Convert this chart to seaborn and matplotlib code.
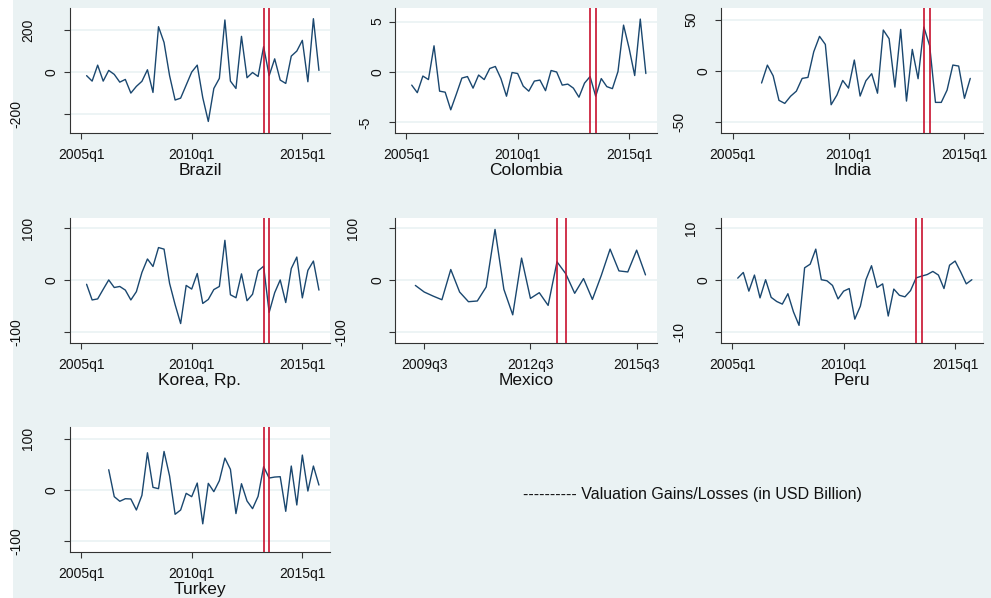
import pandas as pd
import matplotlib
matplotlib.use("Agg")
import matplotlib.pyplot as plt
import seaborn as sns

# valuation gains/losses per quarter (USD billion)
brazil_start = "2005Q2"
brazil = [-17, -43, 33, -43, 8, -11, -48, -35, -100, -68, -44, 11, -97, 216, 141,
          -17, -133, -124, -62, 0, 33, -122, -235, -78, -30, 248, -43, -78, 170,
          -27, -2, -21, 121, -17, 63, -38, -54, 76, 100, 151, -46, 254, 8]

colombia_start = "2005Q2"
colombia = [-1.3, -2.05, -0.4, -0.75, 2.6, -1.9, -2.0, -3.75, -2.2, -0.6, -0.45,
            -1.6, -0.3, -0.75, 0.35, 0.55, -0.65, -2.4, -0.05, -0.15, -1.4, -1.9,
            -0.9, -0.8, -1.85, 0.15, 0.0, -1.3, -1.2, -1.6, -2.5, -1.1, -0.45,
            -2.4, -0.65, -1.45, -1.65, 0.05, 4.65, 2.35, -0.35, 5.25, -0.15]

india_start = "2006Q2"
india = [-12, 5.5, -5, -29, -32, -25, -20, -7.5, -6.5, 18.6, 33.7, 25.8, -33.3,
         -23.8, -9.5, -17, 10.5, -24.8, -9.8, -2.9, -22, 39.9, 31.4, -16, 40.5,
         -29.7, 20.9, -7.8, 42.8, 24.5, -31, -31, -19, 5.6, 4.6, -27, -7.5]

korea_start = "2005Q2"
korea = [-7.8, -38, -36, -17.5, 0.6, -14, -12, -19, -38, -22, 15, 41, 26.5, 63,
         60, -6, -47, -83.5, -10, -17, 13, -44.7, -37, -18, -12, 77, -28, -33.7,
         12.3, -39.5, -27, 18, 27, -62, -24, 0.6, -43, 22.6, 44.7, -34, 19, 37,
         -19]

mexico_start = "2009Q2"
mexico = [-10, -22.7, -30.5, -37.6, 20.7, -22.7, -41.4, -40, -13, 98, -17.5,
          -66.7, 42.7, -35, -24, -48.5, 35.6, 12.3, -25.2, 3.2, -37, 9, 60, 18,
          16, 58, 10.3]

peru_start = "2005Q2"
peru = [0.4, 1.5, -2.1, 1.0, -3.4, 0.1, -3.3, -4.1, -4.6, -2.6, -6.1, -8.7, 2.4,
        3.1, 6.0, 0.1, -0.1, -1.0, -3.6, -2.1, -1.6, -7.5, -5.0, 0.1, 2.8, -1.4,
        -0.7, -6.9, -1.7, -2.9, -3.2, -2.0, 0.45, 0.8, 1.1, 1.7, 1.0, -1.6, 2.9,
        3.7, 1.6, -0.7, 0.1]

turkey_start = "2006Q2"
turkey = [39.6, -13, -22, -17, -17.5, -39, -10.4, 72.7, 5.2, 2.6, 75.3, 27.3,
          -47.4, -39, -6.5, -13, 13.6, -66, 13, -3.2, 18.2, 62.3, 40.3, -46,
          12.3, -21.4, -36.4, -12.3, 45.5, 23.4, 25.3, 26, -41.6, 46.8, -29.2,
          68.2, -2, 46.8, 9.7]

event_quarters = ["2013Q2", "2013Q3"]

panels = [
    ("Brazil", brazil_start, brazil, [-200, 0, 200], (-290, 305)),
    ("Colombia", colombia_start, colombia, [-5, 0, 5], (-6.05, 6.35)),
    ("India", india_start, india, [-50, 0, 50], (-61, 61.5)),
    ("Korea, Rp.", korea_start, korea, [-100, 0, 100], (-121, 120)),
    ("Mexico", mexico_start, mexico, [-100, 0, 100], (-121, 120)),
    ("Peru", peru_start, peru, [-10, 0, 10], (-12.1, 12.0)),
    ("Turkey", turkey_start, turkey, [-100, 0, 100], (-121, 123)),
]

default_xticks = ["2005Q1", "2010Q1", "2015Q1"]
mexico_xticks = ["2009Q3", "2012Q3", "2015Q3"]


def to_num(periods):
    return periods.year + (periods.quarter - 1) / 4.0


def quarter_num(label):
    p = pd.Period(label, freq="Q")
    return p.year + (p.quarter - 1) / 4.0


def quarter_text(label):
    return label.replace("Q", "q")


rows = []
for name, start, vals, _, _ in panels:
    per = pd.period_range(start=start, periods=len(vals), freq="Q")
    for t, v in zip(to_num(per), vals):
        rows.append({"country": name, "t": t, "value": v})
df = pd.DataFrame(rows)

BG = "#EAF2F3"
LINE = "#1A476F"
RED = "#C8102E"
AX = "#333333"

sns.set_style("white")
plt.rcParams["font.family"] = ["Liberation Sans", "DejaVu Sans"]

W, H = 991, 598
fig = plt.figure(figsize=(W / 100, H / 100), dpi=100)
fig.patch.set_facecolor(BG)
fig.patches.append(plt.Rectangle((0, 0), 13 / W, 1, transform=fig.transFigure,
                                 facecolor="white", edgecolor="none", zorder=-1))

col_left = [70, 395, 721]
col_right = [330, 657, 983]
row_bottom = [133, 343, 552]
ax_h = 125

for i, (name, start, vals, yticks, ylim) in enumerate(panels):
    r, c = divmod(i, 3)
    left = col_left[c] / W
    width = (col_right[c] - col_left[c]) / W
    bottom = 1 - row_bottom[r] / H
    ax = fig.add_axes([left, bottom, width, ax_h / H])
    ax.set_facecolor("white")

    sub = df[df["country"] == name]
    for yt in yticks:
        ax.axhline(yt, color=BG, lw=1.2, zorder=0)
    sns.lineplot(data=sub, x="t", y="value", ax=ax, color=LINE, lw=1.0,
                 estimator=None, zorder=3)
    for q in event_quarters:
        ax.axvline(quarter_num(q), color=RED, lw=1.2, zorder=4)

    xt = mexico_xticks if name == "Mexico" else default_xticks
    ax.set_xticks([quarter_num(q) for q in xt])
    ax.set_xticklabels([quarter_text(q) for q in xt])
    if name == "Mexico":
        ax.set_xlim(2008.675, 2016.075)
    elif name == "India":
        ax.set_xlim(2004.5, 2015.8)
    else:
        ax.set_xlim(2004.5, 2016.25)
    ax.set_ylim(*ylim)
    ax.set_yticks(yticks)
    ax.set_yticklabels([])

    # stata staggers the rotated y labels by their length
    for yt in yticks:
        lab = str(yt)
        ax.annotate(lab, xy=(0, yt), xycoords=("axes fraction", "data"),
                    xytext=(-(6 + 12 * len(lab)), 0), textcoords="offset pixels",
                    rotation=90, ha="center", va="center", fontsize=10,
                    color="#111111")

    for s in ["top", "right"]:
        ax.spines[s].set_visible(False)
    for s in ["left", "bottom"]:
        ax.spines[s].set_color(AX)
        ax.spines[s].set_linewidth(0.8)
    ax.tick_params(axis="both", direction="out", length=4.5, width=0.8,
                   color=AX, labelsize=10, labelcolor="#111111",
                   left=True, bottom=True)
    ax.tick_params(axis="x", pad=6)
    ax.set_ylabel("")
    ax.set_xlabel(name, fontsize=12.5, labelpad=1, color="#111111")

fig.text(523 / W, 1 - 494 / H,
         "---------- Valuation Gains/Losses (in USD Billion)",
         ha="left", va="center", fontsize=11.5, color="#111111")

fig.savefig("out.png", dpi=100, facecolor=fig.get_facecolor())
